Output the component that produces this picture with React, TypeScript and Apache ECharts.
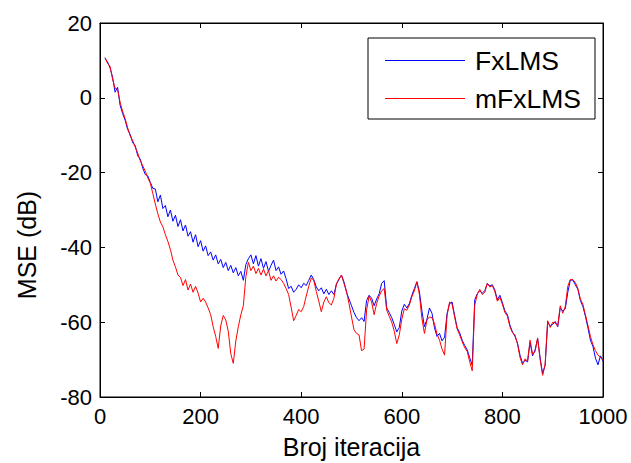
import React, { useEffect, useRef } from "react";
import * as echarts from "echarts";

// Iteration index of each sample (every 5th iteration, 10..1000)
const ITER_START = 10;
const ITER_STEP = 5;

// MSE (dB) for FxLMS, sampled at iterations 10, 15, ..., 1000
const fxlms: number[] = [
  10.5, 9.6, 8.0, 5.5, 1.5, 2.8, -2.0, -4.2, -6.0, -8.5,
  -9.8, -12.0, -12.8, -15.5, -16.4, -18.8, -20.5, -20.9, -22.6, -24.2,
  -24.4, -27.8, -26.0, -29.6, -28.8, -31.8, -30.0, -33.0, -31.4, -34.4,
  -32.6, -35.6, -34.0, -37.0, -35.8, -38.6, -36.6, -39.8, -38.2, -41.0,
  -39.6, -42.2, -41.2, -43.4, -42.0, -44.4, -43.2, -45.4, -44.0, -46.2,
  -44.8, -46.8, -45.4, -47.6, -46.4, -48.8, -44.6, -43.0, -42.0, -44.4,
  -42.2, -45.0, -43.0, -45.6, -43.8, -46.4, -44.8, -43.4, -46.2, -45.2,
  -47.2, -46.3, -48.4, -51.0, -50.4, -52.0, -51.2, -50.0, -50.8, -49.6,
  -50.2, -48.8, -47.4, -48.6, -50.6, -51.6, -50.8, -52.4, -51.2, -52.6,
  -51.6, -52.6, -49.8, -48.6, -47.4, -49.2, -52.0, -53.8, -55.6, -57.4,
  -58.8, -59.6, -58.8, -59.8, -54.2, -52.8, -53.6, -55.6, -53.8, -52.4,
  -49.6, -48.9, -56.2, -57.4, -58.8, -60.6, -62.6, -61.4, -57.0, -55.2,
  -56.2, -55.0, -52.8, -51.0, -49.2, -51.8, -57.0, -61.2, -59.2, -56.2,
  -57.6, -61.5, -63.8, -63.0, -65.0, -64.0, -57.7, -55.0, -54.6, -58.2,
  -61.5, -62.8, -64.8, -66.2, -67.4, -69.5, -71.5, -54.0, -52.4, -51.6,
  -52.2, -51.6, -49.6, -50.3, -50.0, -51.4, -54.0, -52.8, -54.8, -57.0,
  -58.0, -60.8, -62.6, -63.8, -65.6, -68.8, -71.0, -70.2, -70.6, -65.4,
  -69.0, -67.4, -64.4, -69.5, -73.8, -71.5, -60.0, -61.0, -60.6, -59.8,
  -61.2, -56.2, -57.0, -56.4, -52.0, -48.8, -48.7, -50.0, -51.2, -54.2,
  -55.8, -58.4, -61.5, -64.8, -66.5, -69.6, -71.4, -69.0, -70.4,
];

// MSE (dB) for mFxLMS, sampled at iterations 10, 15, ..., 1000
const mfxlms: number[] = [
  10.8, 9.2, 8.4, 5.0, 2.6, 2.2, -1.2, -3.6, -5.6, -8.0,
  -10.2, -11.4, -13.2, -14.8, -16.8, -18.2, -19.6, -21.4, -22.8, -25.6,
  -28.4, -31.0, -33.2, -34.5, -36.6, -38.4, -40.6, -43.4, -45.2, -47.4,
  -48.0, -50.2, -48.6, -51.4, -49.8, -52.0, -50.4, -52.2, -54.6, -53.6,
  -54.6, -56.2, -58.0, -61.2, -63.8, -67.0, -61.0, -58.2, -59.4, -62.4,
  -68.4, -71.0, -65.0, -61.2, -58.0, -55.6, -47.8, -44.0, -46.2, -45.0,
  -47.0, -45.6, -47.4, -45.8, -47.6, -46.2, -48.8, -47.6, -49.0, -48.0,
  -48.6, -49.6, -51.0, -52.6, -56.0, -59.6, -58.2, -56.6, -57.2, -55.8,
  -53.0, -50.4, -48.2, -48.8, -51.8, -54.4, -57.2, -54.6, -53.2, -54.8,
  -55.4, -53.6, -49.8, -48.4, -47.4, -49.6, -51.6, -55.0, -58.6, -62.0,
  -63.0, -63.4, -67.6, -67.2, -56.8, -53.0, -54.6, -58.0, -55.0, -53.0,
  -51.6, -51.0, -56.8, -58.4, -60.0, -62.4, -65.7, -63.4, -59.2, -56.4,
  -56.8, -55.4, -53.2, -51.6, -49.2, -52.6, -59.0, -63.0, -59.4, -58.6,
  -58.8, -60.4, -63.2, -64.8, -67.2, -68.8, -58.2, -54.6, -55.2, -58.6,
  -61.8, -63.4, -65.2, -66.8, -67.8, -70.6, -73.0, -55.4, -52.6, -51.2,
  -52.6, -52.0, -49.6, -50.6, -50.2, -51.8, -54.4, -53.4, -55.2, -57.4,
  -58.4, -61.2, -62.8, -63.4, -65.8, -69.4, -71.4, -69.8, -70.4, -64.8,
  -68.6, -67.8, -64.2, -70.0, -74.2, -71.2, -59.6, -61.4, -60.0, -60.2,
  -61.0, -55.6, -57.6, -55.8, -50.4, -48.6, -48.6, -49.4, -51.0, -53.8,
  -55.2, -58.0, -60.8, -63.8, -66.0, -67.6, -68.8, -69.4, -70.2,
];

const seriesNames = ["FxLMS", "mFxLMS"];
const xTicks = [0, 200, 400, 600, 800, 1000];
const yTicks = [-80, -60, -40, -20, 0, 20];

const FONT = "'Liberation Sans', Arial, Helvetica, sans-serif";

function toPairs(vals: number[]): [number, number][] {
  return vals.map((v, k) => [ITER_START + ITER_STEP * k, v]);
}

export default function App() {
  const ref = useRef<HTMLDivElement>(null);
  useEffect(() => {
    if (!ref.current) return;
    const chart = echarts.init(ref.current, undefined, { renderer: "svg" });
    const axisLine = { show: true, onZero: false, lineStyle: { color: "#000", width: 1 } };
    const tickIn = { show: true, inside: true, length: 5, lineStyle: { color: "#000", width: 1 } };
    const plain = (v: number) => String(v);
    chart.setOption({
      animation: false,
      backgroundColor: "#fff",
      grid: {
        left: 100,
        right: 28,
        top: 23,
        bottom: 66,
        outerBoundsMode: "none",
        containLabel: false,
        show: true,
        borderColor: "#000",
        borderWidth: 1,
        backgroundColor: "#fff",
      },
      legend: {
        orient: "vertical",
        left: 368,
        top: 38,
        data: seriesNames,
        icon: "rect",
        itemWidth: 80,
        itemHeight: 1,
        itemGap: 11,
        padding: [9, 14, 7, 17],
        backgroundColor: "#fff",
        borderColor: "#000",
        borderWidth: 1,
        textStyle: { fontFamily: FONT, fontSize: 26.5, color: "#000", padding: [0, 0, 0, 5] },
      },
      xAxis: [
        {
          type: "value",
          min: xTicks[0],
          max: xTicks[xTicks.length - 1],
          interval: 200,
          name: "Broj iteracija",
          nameLocation: "middle",
          nameGap: 37,
          nameTextStyle: { fontFamily: FONT, fontSize: 25, color: "#000" },
          axisLine,
          axisTick: tickIn,
          axisLabel: { fontFamily: FONT, fontSize: 22, color: "#000", margin: 8, formatter: plain },
          splitLine: { show: false },
        },
        {
          type: "value",
          position: "top",
          min: xTicks[0],
          max: xTicks[xTicks.length - 1],
          interval: 200,
          axisLine,
          axisTick: tickIn,
          axisLabel: { show: false },
          splitLine: { show: false },
        },
      ],
      yAxis: [
        {
          type: "value",
          min: yTicks[0],
          max: yTicks[yTicks.length - 1],
          interval: 20,
          name: "MSE (dB)",
          nameLocation: "middle",
          nameGap: 61,
          nameTextStyle: { fontFamily: FONT, fontSize: 25, color: "#000", padding: [0, 70, 0, 0] },
          axisLine,
          axisTick: tickIn,
          axisLabel: { fontFamily: FONT, fontSize: 22, color: "#000", margin: 8, formatter: plain },
          splitLine: { show: false },
        },
        {
          type: "value",
          position: "right",
          min: yTicks[0],
          max: yTicks[yTicks.length - 1],
          interval: 20,
          axisLine,
          axisTick: tickIn,
          axisLabel: { show: false },
          splitLine: { show: false },
        },
      ],
      series: [
        {
          name: seriesNames[0],
          type: "line",
          data: toPairs(fxlms),
          showSymbol: false,
          symbol: "none",
          lineStyle: { color: "#0000ff", width: 1 },
          itemStyle: { color: "#0000ff" },
          z: 2,
        },
        {
          name: seriesNames[1],
          type: "line",
          data: toPairs(mfxlms),
          showSymbol: false,
          symbol: "none",
          lineStyle: { color: "#ff0000", width: 1 },
          itemStyle: { color: "#ff0000" },
          z: 3,
        },
      ],
    });
    return () => chart.dispose();
  }, []);
  return (
    <div
      ref={ref}
      style={{ position: "fixed", left: 0, top: 0, width: 631, height: 463, background: "#fff" }}
    />
  );
}
